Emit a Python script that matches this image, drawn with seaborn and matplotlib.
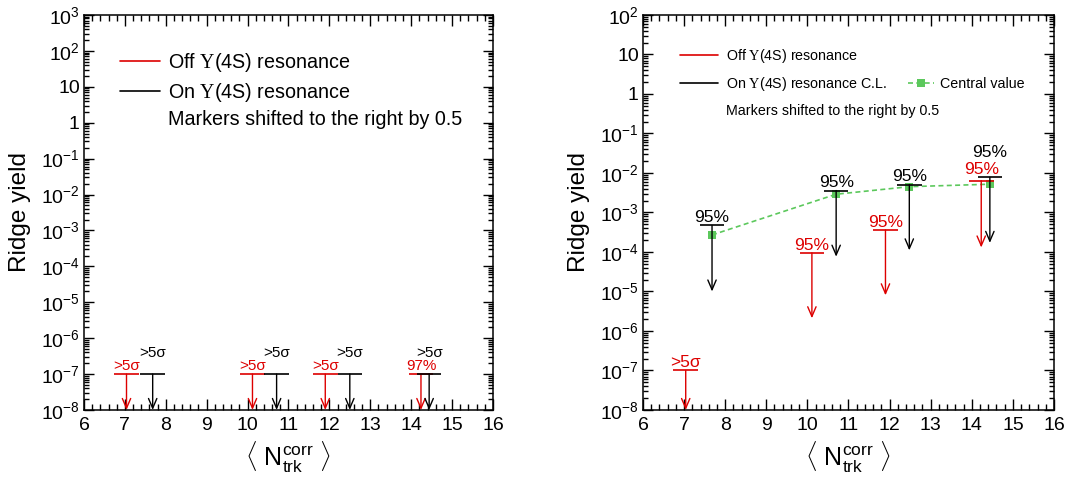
import numpy as np
import matplotlib
matplotlib.use('Agg')
import matplotlib.pyplot as plt
import seaborn as sns
from matplotlib.lines import Line2D
from matplotlib.ticker import MultipleLocator, LogLocator, FuncFormatter, NullFormatter

# ---- data ----
# left panel: significance, everything sits at 1e-7 with arrows down to 1e-8
sig_off_x = [7.04, 10.12, 11.90, 14.24]
sig_off_y = [1e-7, 1e-7, 1e-7, 1e-7]
sig_off_lo = [1e-8, 1e-8, 1e-8, 1e-8]
sig_off_lbl = ['>5σ', '>5σ', '>5σ', '97%']
sig_on_x = [7.68, 10.71, 12.50, 14.44]
sig_on_y = [1e-7, 1e-7, 1e-7, 1e-7]
sig_on_lo = [1e-8, 1e-8, 1e-8, 1e-8]
sig_on_lbl = ['>5σ', '>5σ', '>5σ', '>5σ']

# right panel: confidence level upper limits
cl_off_x = [7.04, 10.11, 11.90, 14.23]
cl_off_y = [1.0e-7, 9.5e-5, 3.6e-4, 6.4e-3]
cl_off_lo = [1.0e-8, 2.1e-6, 8.0e-6, 1.3e-4]
cl_off_lbl = ['>5σ', '95%', '95%', '95%']
cl_on_x = [7.68, 10.70, 12.48, 14.44]
cl_on_y = [4.7e-4, 3.6e-3, 5.1e-3, 7.8e-3]
cl_on_lo = [1.0e-5, 7.6e-5, 1.1e-4, 1.7e-4]
cl_on_lbl = ['95%', '95%', '95%', '95%']
central = [2.7e-4, 2.9e-3, 4.5e-3, 5.2e-3]

# label offsets (points above the bar)
sig_off_pad = [2.7, 2.7, 2.7, 2.7]
sig_on_pad = [12.3, 12.3, 12.3, 12.3]
cl_off_pad = [2.2, 2.2, 2.2, 4.8]
cl_on_pad = [2.2, 2.2, 2.2, 14.5]

RED = '#dd0000'
BLK = 'black'
GRN = '#5cc85c'

sns.set_style('ticks')
plt.rcParams['font.family'] = ['Liberation Sans', 'DejaVu Sans']
plt.rcParams['mathtext.fontset'] = 'custom'
plt.rcParams['mathtext.rm'] = 'Liberation Sans'
plt.rcParams['mathtext.it'] = 'Liberation Sans:italic'
plt.rcParams['mathtext.cal'] = 'Liberation Serif'
plt.rcParams['axes.linewidth'] = 1.1
for k in ['text.color', 'axes.labelcolor', 'xtick.color', 'ytick.color', 'axes.edgecolor']:
    plt.rcParams[k] = 'black'

UPS = r'$\mathcal{\Upsilon}$'


def logfmt(v, pos):
    e = int(round(np.log10(v)))
    if e == 0:
        return '1'
    if e == 1:
        return '10'
    return r'$10^{%d}$' % e


def style_axes(ax, ytop):
    ax.set_xlim(6, 16)
    ax.set_yscale('log')
    ax.set_ylim(1e-8, ytop)
    ax.xaxis.set_major_locator(MultipleLocator(1))
    ax.xaxis.set_minor_locator(MultipleLocator(0.2))
    ax.yaxis.set_major_locator(LogLocator(base=10, numticks=30))
    ax.yaxis.set_minor_locator(LogLocator(base=10, subs=np.arange(2, 10), numticks=30))
    ax.yaxis.set_major_formatter(FuncFormatter(logfmt))
    ax.yaxis.set_minor_formatter(NullFormatter())
    ax.tick_params(axis='both', which='both', direction='in', top=True, right=True,
                   width=1.0, labelsize=14)
    ax.tick_params(axis='x', which='major', length=8, pad=5)
    ax.tick_params(axis='x', which='minor', length=4.5)
    ax.tick_params(axis='y', which='major', length=7, pad=3)
    ax.tick_params(axis='y', which='minor', length=3.5)
    for s in ax.spines.values():
        s.set_visible(True)
    ax.set_ylabel('Ridge yield', fontsize=17.5)
    ax.yaxis.set_label_coords(-0.13, 0.5)
    ax.set_xlabel(r'$\langle\ \mathrm{N}_{\mathrm{trk}}^{\mathrm{corr}}\ \rangle$', fontsize=18)
    ax.xaxis.set_label_coords(0.5, -0.075)
    ax.xaxis.label.set_va('top')


def limits(ax, xs, ys, lows, labels, pads, color, fs):
    xs = np.array(xs)
    ax.hlines(ys, xs - 0.3, xs + 0.3, color=color, lw=1.2, zorder=3)
    for x, y, lo, lab, pad in zip(xs, ys, lows, labels, pads):
        ax.annotate('', xy=(x, lo), xytext=(x, y),
                    arrowprops=dict(arrowstyle='->,head_length=0.7,head_width=0.3',
                                    color=color, lw=1.0, shrinkA=0, shrinkB=0),
                    annotation_clip=False, zorder=3)
        ax.annotate(lab, xy=(x, y), xytext=(0, pad), textcoords='offset points',
                    ha='center', va='baseline', color=color, fontsize=fs)


fig = plt.figure(figsize=(10.67, 4.79), dpi=100)
ax1 = fig.add_axes([0.0787, 0.1441, 0.3833, 0.8246])
ax2 = fig.add_axes([0.6026, 0.1441, 0.3852, 0.8246])

# ---- left: significance ----
style_axes(ax1, 1e3)
limits(ax1, sig_off_x, sig_off_y, sig_off_lo, sig_off_lbl, sig_off_pad, RED, 11)
limits(ax1, sig_on_x, sig_on_y, sig_on_lo, sig_on_lbl, sig_on_pad, BLK, 11)

h1 = [Line2D([], [], color=RED, lw=1.2),
      Line2D([], [], color=BLK, lw=1.2),
      Line2D([], [], color='none')]
l1 = ['Off ' + UPS + '(4S) resonance', 'On ' + UPS + '(4S) resonance',
      'Markers shifted to the right by 0.5']
ax1.legend(h1, l1, loc='upper left', bbox_to_anchor=(0.089, 0.908), frameon=False,
           fontsize=14.2, handlelength=2.0, handletextpad=0.4, labelspacing=0.33,
           borderpad=0, borderaxespad=0)

# ---- right: C.L. ----
style_axes(ax2, 1e2)
sns.lineplot(x=cl_on_x, y=central, ax=ax2, color=GRN, linestyle=(0, (3, 2)), lw=1.2,
             marker='s', markersize=6, markeredgewidth=0, zorder=2)
limits(ax2, cl_off_x, cl_off_y, cl_off_lo, cl_off_lbl, cl_off_pad, RED, 12.5)
limits(ax2, cl_on_x, cl_on_y, cl_on_lo, cl_on_lbl, cl_on_pad, BLK, 12.5)

h2 = [Line2D([], [], color=RED, lw=1.2),
      Line2D([], [], color=BLK, lw=1.2),
      Line2D([], [], color='none')]
l2 = ['Off ' + UPS + '(4S) resonance', 'On ' + UPS + '(4S) resonance C.L.',
      'Markers shifted to the right by 0.5']
leg2 = ax2.legend(h2, l2, loc='upper left', bbox_to_anchor=(0.089, 0.92), frameon=False,
                  fontsize=10.3, handlelength=2.7, handletextpad=0.55, labelspacing=0.75,
                  borderpad=0, borderaxespad=0)
ax2.add_artist(leg2)
h3 = [Line2D([], [], color=GRN, lw=1.2, linestyle=(0, (3, 2)), marker='s',
             markersize=6, markeredgewidth=0)]
ax2.legend(h3, ['Central value'], loc='upper left', bbox_to_anchor=(0.646, 0.843),
           frameon=False, fontsize=10.3, handlelength=1.8, handletextpad=0.4,
           borderpad=0, borderaxespad=0, markerscale=1)

fig.savefig('out.png', dpi=100)
